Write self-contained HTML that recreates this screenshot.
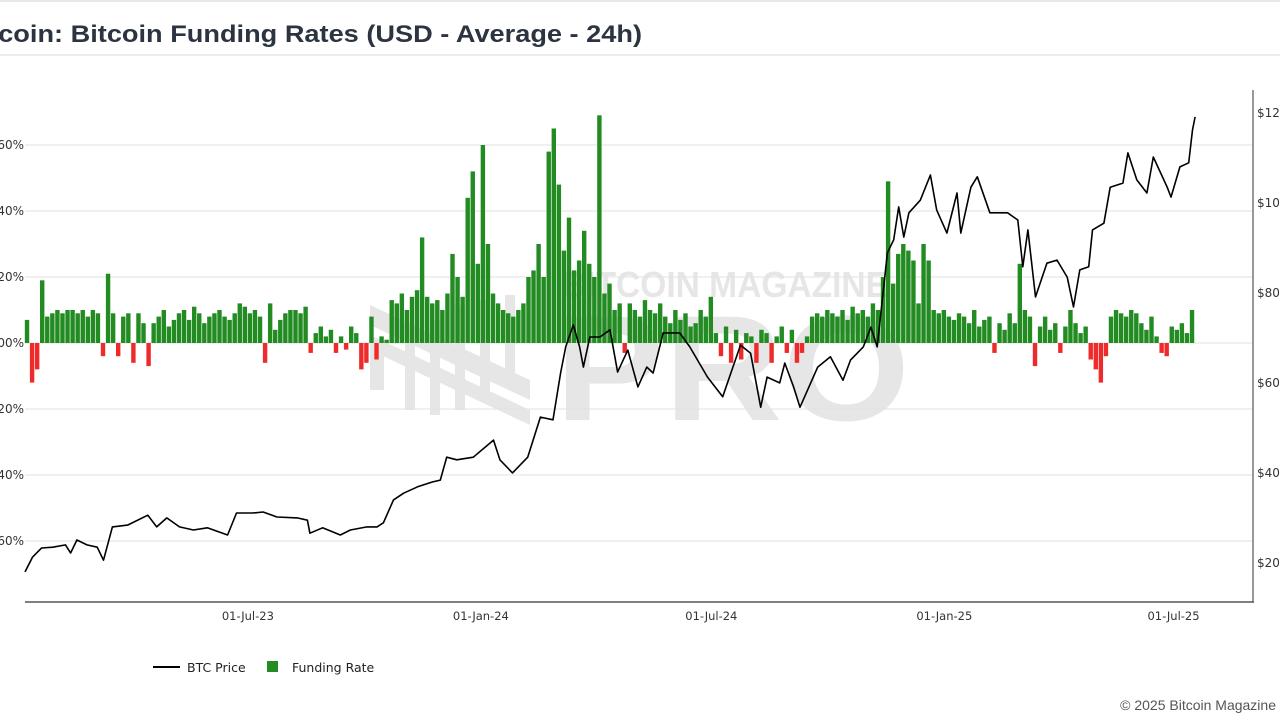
<!DOCTYPE html>
<html><head><meta charset="utf-8"><style>
html,body{margin:0;padding:0;background:#fff;width:1280px;height:720px;overflow:hidden}
svg{display:block;font-family:"Liberation Sans",sans-serif}
.tk{font-family:"DejaVu Sans","Liberation Sans",sans-serif}
</style></head><body>
<svg id="chart" width="1280" height="720" viewBox="0 0 1280 720">
<line x1="0" y1="1" x2="1280" y2="1" stroke="#e8e8e8" stroke-width="2"/>
<text x="-38" y="42" font-size="24" font-weight="bold" fill="#2b3440" textLength="680" lengthAdjust="spacingAndGlyphs">Bitcoin: Bitcoin Funding Rates (USD - Average - 24h)</text>
<line x1="0" y1="55" x2="1280" y2="55" stroke="#e6e6e6" stroke-width="1.5"/>
<g id="watermark" fill="#e6e6e6">
<polygon points="370,305 530,380 530,400 370,325"/>
<polygon points="370,335 530,410 530,425 370,350"/>
<rect x="370" y="350" width="14" height="40"/>
<rect x="405" y="330" width="10" height="80"/><rect x="430" y="320" width="10" height="95"/><rect x="455" y="305" width="10" height="105"/><rect x="480" y="300" width="10" height="95"/><rect x="505" y="295" width="10" height="90"/>
<text x="562" y="297" font-size="36" font-weight="bold" textLength="326" lengthAdjust="spacingAndGlyphs">BITCOIN MAGAZINE</text>
<text x="555" y="420" font-size="150" font-weight="bold" textLength="355" lengthAdjust="spacingAndGlyphs">PRO</text>
</g>
<g id="grid"></g>
<g id="bars"></g>
<g id="line"></g>
<g id="axes" class="tk"></g>
<g class="tk">
<g><line x1="153" y1="667" x2="180" y2="667" stroke="#000" stroke-width="2"/><text x="187" y="672" font-size="12.5" fill="#222">BTC Price</text></g>
<g><rect x="267" y="661" width="11" height="11" fill="#228b22"/><text x="292" y="672" font-size="12.5" fill="#222">Funding Rate</text></g>
</g>
<text x="1276" y="710" font-size="14" fill="#555" text-anchor="end">© 2025 Bitcoin Magazine</text>
</svg>
<script>
const priceDays=[0,6,13,22,32,36,41,49,57,62,69,81,97,104,112,122,133,144,160,167,180,188,199,215,223,225,235,249,257,270,278,283,291,299,310,322,328,333,341,354,370,375,385,397,407,417,423,427,433,438,441,446,454,462,468,476,484,491,496,504,517,525,539,551,559,565,573,581,586,596,600,607,612,626,636,646,652,662,668,673,681,686,690,694,698,707,715,720,728,736,739,747,752,762,776,784,788,792,798,807,815,823,828,833,840,843,852,857,867,871,878,886,891,902,905,912,919,922,924];
const priceK=[17.8,21.1,23.1,23.3,23.8,22.0,24.9,23.8,23.3,20.4,27.8,28.2,30.4,27.8,29.8,27.8,27.1,27.6,26.0,30.9,30.9,31.1,30.0,29.8,29.3,26.4,27.6,26.0,27.1,27.8,27.8,28.7,33.8,35.3,36.7,37.8,38.2,43.3,42.7,43.3,47.1,42.7,39.8,43.3,52.2,51.6,62.0,67.8,72.7,67.8,63.3,70.0,70.0,71.6,62.2,67.1,58.9,63.3,62.0,70.9,70.9,67.8,61.1,56.7,63.3,68.2,66.4,54.4,61.1,59.8,64.2,58.9,54.4,63.3,65.6,60.4,64.9,67.8,72.2,67.8,88.7,91.6,98.9,92.2,97.6,100.4,106.0,98.2,93.1,102.0,93.1,103.3,105.6,97.6,97.6,96.0,85.6,93.8,78.9,86.4,87.1,83.3,76.7,84.9,85.6,93.8,95.3,103.3,104.2,110.9,104.9,102.0,110.0,103.3,101.1,107.8,108.7,116.0,118.9];
// funding rate in thousandths of a percent (0.001%), one bar per 4 days
const funding=[7,-12,-8,19,8,9,10,9,10,10,
9,10,8,10,9,-4,21,9,-4,8,
9,-6,9,6,-7,6,8,10,5,7,
9,10,7,11,9,6,8,9,10,8,
7,9,12,11,9,10,8,-6,12,4,
7,9,10,10,9,11,-3,3,5,2,
4,-3,2,-2,5,3,-8,-6,8,-5,
2,1,13,12,15,10,14,16,32,14,
12,13,10,15,27,20,14,44,52,24,
60,30,15,12,10,9,8,10,12,20,
22,30,20,58,65,48,28,38,22,25,
34,24,20,69,15,18,10,12,-3,12,
10,8,13,10,9,12,8,6,10,7,
9,5,6,10,8,14,3,-4,5,-6,
4,-5,3,2,-6,4,3,-6,2,5,
-3,4,-6,-3,2,8,9,8,10,9,
8,10,7,11,9,10,8,12,10,20,
49,18,27,30,28,25,12,30,25,10,
9,10,8,7,9,8,6,10,5,7,
8,-3,6,4,9,6,24,10,8,-7,
5,8,4,6,-3,5,10,6,3,5,
-5,-8,-12,-4,8,10,9,8,10,9,
6,4,8,2,-3,-4,5,4,6,3,10];
const leftTicks=[60,40,20,0,-20,-40,-60];
const leftTickLabels=["0.060%","0.040%","0.020%","0.000%","-0.020%","-0.040%","-0.060%"];
const rightTicks=[120,100,80,60,40,20];
const rightTickLabels=["$120K","$100K","$80K","$60K","$40K","$20K"];
const xTickDays=[176,360,542,726,907];
const xTickLabels=["01-Jul-23","01-Jan-24","01-Jul-24","01-Jan-25","01-Jul-25"];
const X0=25,X1=1253,PX_PER_DAY=1.2663;
const xs=d=>X0+d*PX_PER_DAY;
const yf=v=>343-v*3.3;
const yp=p=>112+(120-p)*4.5;
const NS="http://www.w3.org/2000/svg";
function mk(tag,attrs,parent){const e=document.createElementNS(NS,tag);for(const k in attrs)e.setAttribute(k,attrs[k]);parent.appendChild(e);return e;}
const grid=document.getElementById('grid'),bars=document.getElementById('bars'),line=document.getElementById('line'),axes=document.getElementById('axes');
leftTicks.forEach((t,i)=>{
  const g=mk('line',{x1:X0,x2:X1,y1:yf(t),y2:yf(t),stroke:'#e2e2e2','stroke-width':1},grid);
  
  
  const tx=mk('text',{x:24,y:yf(t)+4,'font-size':12,fill:'#333','text-anchor':'end'},axes);
  tx.textContent=leftTickLabels[i];
  
  
});
rightTicks.forEach((t,i)=>{
  const tx=mk('text',{x:1257,y:yp(t)+5,'font-size':12,fill:'#333'},axes);
  tx.textContent=rightTickLabels[i];
  
  
});
xTickDays.forEach((d,i)=>{
  const tx=mk('text',{x:xs(d),y:620,'font-size':11.5,fill:'#333','text-anchor':'middle'},axes);
  tx.textContent=xTickLabels[i];
  
  
});
const xa=mk('line',{x1:X0,x2:X1+1,y1:602,y2:602,stroke:'#333','stroke-width':1.2},axes);


const ya=mk('line',{x1:X1,x2:X1,y1:90,y2:602,stroke:'#555','stroke-width':1.2},axes);


funding.forEach((v,i)=>{
  const cx=xs(i*4+1.6);
  const y=Math.min(yf(v),yf(0)),h=Math.abs(yf(v)-yf(0));
  const r=mk('rect',{x:cx-2.2,y:y,width:4.4,height:Math.max(h,0.5),fill:v>=0?'#228b22':'#ee2a2a'},bars);
  
  
});
const pts=priceDays.map((d,i)=>xs(d).toFixed(1)+','+yp(priceK[i]).toFixed(1)).join(' ');
const pl=mk('polyline',{points:pts,fill:'none',stroke:'#000','stroke-width':1.6,'stroke-linejoin':'round'},line);


</script>
</body></html>
